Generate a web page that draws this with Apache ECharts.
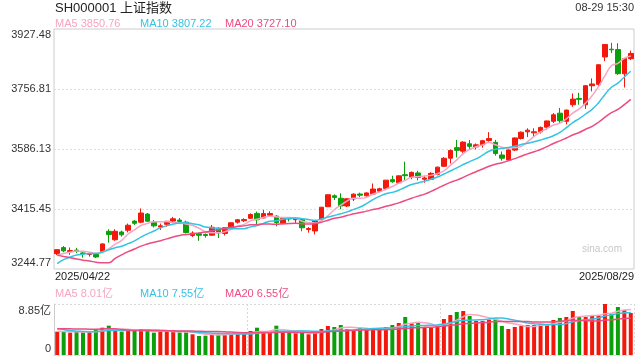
<!DOCTYPE html>
<html><head><meta charset="utf-8">
<script src="https://cdn.jsdelivr.net/npm/echarts@6/dist/echarts.min.js"></script>
<style>html,body{margin:0;padding:0;background:#fff}#c{width:640px;height:360px}</style>
</head><body><div id="c"></div><script>
const dates = ['2025-04-22','2025-04-23','2025-04-24','2025-04-25','2025-04-28','2025-04-29','2025-04-30',
'2025-05-06','2025-05-07','2025-05-08','2025-05-09','2025-05-12','2025-05-13','2025-05-14','2025-05-15','2025-05-16','2025-05-19','2025-05-20','2025-05-21','2025-05-22','2025-05-23','2025-05-26','2025-05-27','2025-05-28','2025-05-29','2025-05-30',
'2025-06-03','2025-06-04','2025-06-05','2025-06-06','2025-06-09','2025-06-10','2025-06-11','2025-06-12','2025-06-13','2025-06-16','2025-06-17','2025-06-18','2025-06-19','2025-06-20','2025-06-23','2025-06-24','2025-06-25','2025-06-26','2025-06-27','2025-06-30',
'2025-07-01','2025-07-02','2025-07-03','2025-07-04','2025-07-07','2025-07-08','2025-07-09','2025-07-10','2025-07-11','2025-07-14','2025-07-15','2025-07-16','2025-07-17','2025-07-18','2025-07-21','2025-07-22','2025-07-23','2025-07-24','2025-07-25','2025-07-28','2025-07-29','2025-07-30','2025-07-31',
'2025-08-01','2025-08-04','2025-08-05','2025-08-06','2025-08-07','2025-08-08','2025-08-11','2025-08-12','2025-08-13','2025-08-14','2025-08-15','2025-08-18','2025-08-19','2025-08-20','2025-08-21','2025-08-22','2025-08-25','2025-08-26','2025-08-27','2025-08-28','2025-08-29'];

const opens = [3288.5,3305.6,3294.5,3298.5,3290.5,3286.0,3286.0,
3295,3352,3328,3350,3355,3381,3378,3401,3378,3364,3372,3381,3384,3378,3340,3345,3343,3341,3361,
3346,3362,3378,3382,3389,3403,3390,3398,3395,3374,3388,3385,3386,3357,3353,3385,3422,3453,3446,3424,
3444,3458,3453,3458,3466,3474,3499,3490,3513,3506,3518,3500,3500,3514,3537,3560,3590,3580,3601,3592,3598,3610,3605,
3569,3555,3583,3616,3635,3632,3635,3648,3665,3688,3665,3712,3730,3712,3766,3770,3848,3870,3869,3800,3843];

const highs = [3300.5,3310,3306,3305,3293.5,3291,3288,
3318,3358,3358,3354,3374,3384,3417,3404,3384,3374,3381,3393,3390,3382,3352,3348,3346,3370,3363,
3363,3378,3387,3389,3403,3408,3413,3409,3398,3389,3391,3391,3387,3364,3384,3421,3456.5,3457,3460,3446,
3460,3462,3463,3488,3476,3498,3510,3511,3550,3522,3524,3510,3520,3536,3563,3585,3612,3608,3612,3602,3612,3634,3612,
3579,3585,3619,3636,3645,3645,3650,3667,3688,3703,3698,3744,3746,3768,3787,3826.5,3884,3888,3887,3845,3866];

const lows = [3284.5,3292.5,3285,3290,3277,3280,3276,
3292,3320,3325,3337,3349,3370,3375,3379,3363,3356,3365,3377,3373,3346,3336,3325,3334,3340,3333,
3340,3361,3374,3378,3387,3371,3389,3393,3366,3372,3380,3375,3352,3348,3343,3384,3421,3441,3415,3421,
3438,3449,3451,3455,3464,3473,3490,3488,3496,3500,3497,3490,3498,3511,3535,3545,3562,3575,3584,3585,3590,3607,3567,
3553,3553,3580,3613,3620,3623,3630,3640,3660,3658,3656,3706,3712,3700,3750,3765,3836,3859,3797,3761,3839];

const closes = [3299.76,3296.36,3297.29,3295.06,3288.41,3286.65,3279.03,
3316.11,3342.67,3352.00,3341.97,3369.24,3374.87,3403.95,3380.82,3367.46,3367.58,3380.48,3387.57,3380.19,3348.37,3346.84,3340.69,3339.93,3363.45,3347.49,
3361.98,3376.20,3384.82,3385.36,3399.77,3384.82,3402.32,3402.66,3377.00,3388.73,3387.40,3388.81,3362.11,3359.90,3381.58,3420.57,3455.97,3448.45,3424.23,3444.43,
3457.75,3454.79,3461.15,3472.32,3473.13,3497.48,3493.05,3509.68,3510.18,3519.65,3505.00,3503.78,3516.83,3534.48,3559.79,3581.86,3582.30,3605.73,3593.66,3597.94,3609.71,3615.72,3573.21,
3559.95,3583.31,3617.60,3633.99,3639.67,3635.13,3647.55,3665.92,3683.46,3666.44,3696.77,3728.03,3727.29,3766.21,3771.10,3825.76,3883.56,3868.38,3800.35,3843.60,3857.93];

// closes of the 19 sessions before the first candle (for moving averages)
const preCloses = [3369.98,3368.70,3373.75,3351.31,3335.75,3348.44,3350.13,3342.01,3096.58,3145.55,3186.81,3223.64,3238.23,3262.81,3267.66,3276.00,3280.34,3276.73,3291.43];

// volume in 亿
const volumes = [4.05,4.05,3.88,3.99,3.93,3.99,4.45,4.74,5.09,4.16,4.05,4.28,4.16,4.51,4.16,3.88,4.10,4.16,4.05,3.93,3.93,3.59,3.30,3.35,3.64,3.59,
3.76,3.76,3.70,3.76,4.16,4.74,4.05,4.05,5.09,4.05,3.99,3.76,3.99,3.59,3.82,
4.51,5.03,4.86,5.21,4.51,4.34,4.74,4.34,4.51,4.51,4.86,5.21,5.55,6.59,5.49,5.55,4.74,4.74,4.92,6.25,6.94,7.46,7.64,6.77,5.90,5.90,6.13,6.30,
5.03,4.51,4.86,5.03,5.21,5.21,5.38,5.26,6.07,6.42,6.59,7.64,6.59,6.59,6.77,6.88,8.85,7.11,8.33,7.81,7.29];
const preVolumes = [4.3,4.1,4.3,4.2,4.4,4.4,4.3,4.1,4.5,6.6,6.0,5.6,5.0,4.4,4.5,4.2,4.2,3.9,4.2];

const priceTickLabels = ['3244.77','3415.45','3586.13','3756.81','3927.48'];
const volTickLabels = ['0','8.85亿'];
const titleText = 'SH000001 上证指数';
const timeText = '08-29 15:30';
const priceLegend = ['MA5 3850.76','MA10 3807.22','MA20 3727.10'];
const volLegend = ['MA5 8.01亿','MA10 7.55亿','MA20 6.55亿'];

const UP = '#f2190c', DOWN = '#0b9f0b';
const C5 = '#f6a5c2', C10 = '#35c3e3', C20 = '#ec4c80';
const FONT = 'Arial, "Liberation Sans", "Noto Sans CJK SC", sans-serif';

function ma(pre, arr, w) {
  const all = pre.concat(arr);
  return arr.map((_, i) => {
    let s = 0;
    for (let k = 0; k < w; k++) s += all[pre.length + i - k];
    return +(s / w).toFixed(2);
  });
}
const candleData = closes.map((c, i) => [opens[i], c, lows[i], highs[i]]);
const volData = volumes.map((v, i) => ({ value: v, itemStyle: { color: closes[i] >= opens[i] ? UP : DOWN } }));
const fmtDate = d => d.replace(/-/g, '/');

function lineSeries(data, color, xi, yi) {
  return { type: 'line', data, xAxisIndex: xi, yAxisIndex: yi, showSymbol: false, smooth: true, silent: true,
    lineStyle: { color, width: 1.5 }, itemStyle: { color } };
}
function txt(x, y, text, color, size, align) {
  return { type: 'text', x, y, silent: true,
    style: { text, fill: color, font: size + 'px ' + FONT, textAlign: align || 'left', textVerticalAlign: 'middle' } };
}

const lastP = priceTickLabels.length - 1;
const chart = echarts.init(document.getElementById('c'));
chart.setOption({
  animation: false,
  backgroundColor: '#fff',
  textStyle: { fontFamily: FONT },
  grid: [
    { left: 54, right: 6, top: 29, height: 240, show: true, borderColor: '#ccc', borderWidth: 1, backgroundColor: 'transparent' },
    { left: 54, right: 6, top: 304, height: 51 }
  ],
  xAxis: [
    { type: 'category', gridIndex: 0, data: dates, boundaryGap: true, axisLine: { show: false }, axisTick: { show: false }, axisLabel: { show: false }, splitLine: { show: false } },
    { type: 'category', gridIndex: 1, data: dates, boundaryGap: true,
      axisLine: { show: true, lineStyle: { color: '#d8d8d8', type: [2, 2] } }, axisTick: { show: false }, axisLabel: { show: false },
      splitLine: { show: true, interval: 29, lineStyle: { color: '#d8d8d8', type: [2, 2] } } }
  ],
  yAxis: [
    { type: 'value', gridIndex: 0, min: 3244.77, max: 3927.48, position: 'right', show: false },
    { type: 'category', gridIndex: 0, data: priceTickLabels, boundaryGap: false, position: 'left',
      axisLine: { show: false }, axisTick: { show: false },
      axisLabel: { interval: 0, color: '#333', fontSize: 11, fontFamily: FONT, margin: 3,
        formatter: (v, i) => i === 0 ? '{b|' + v + '}' : (i === lastP ? '{t|' + v + '}' : v),
        rich: { t: { padding: [11, 0, 0, 0], fontSize: 11, color: '#333', fontFamily: FONT }, b: { padding: [0, 0, 12, 0], fontSize: 11, color: '#333', fontFamily: FONT } } },
      splitLine: { show: true, interval: (i) => i > 0 && i < lastP, lineStyle: { color: '#dedede', type: [2, 2] } } },
    { type: 'value', gridIndex: 1, min: 0, max: 8.85, interval: 8.85,
      axisLine: { show: true, lineStyle: { color: '#ccc' } }, axisTick: { show: false },
      axisLabel: { color: '#333', fontSize: 11, fontFamily: FONT, margin: 3,
        formatter: (v) => v === 0 ? '{b|' + volTickLabels[0] + '}' : '{t|' + volTickLabels[1] + '}',
        rich: { t: { padding: [13, 0, 0, 0], fontSize: 11, color: '#333', fontFamily: FONT }, b: { padding: [0, 0, 12, 0], fontSize: 11, color: '#333', fontFamily: FONT } } },
      splitLine: { show: true, lineStyle: { color: '#d8d8d8', type: [2, 2] } } }
  ],
  series: [
    { type: 'candlestick', xAxisIndex: 0, yAxisIndex: 0, data: candleData, barWidth: 5,
      itemStyle: { color: UP, color0: DOWN, borderColor: UP, borderColor0: DOWN, borderWidth: 1 } },
    lineSeries(ma(preCloses, closes, 5), C5, 0, 0),
    lineSeries(ma(preCloses, closes, 10), C10, 0, 0),
    lineSeries(ma(preCloses, closes, 20), C20, 0, 0),
    { type: 'bar', xAxisIndex: 1, yAxisIndex: 2, data: volData, barWidth: 4 },
    lineSeries(ma(preVolumes, volumes, 5), C5, 1, 2),
    lineSeries(ma(preVolumes, volumes, 10), C10, 1, 2),
    lineSeries(ma(preVolumes, volumes, 20), C20, 1, 2)
  ],
  graphic: [
    txt(55, 8, titleText, '#222', 13),
    txt(634, 8, timeText, '#333', 11, 'right'),
    txt(55, 24, priceLegend[0], C5, 11),
    txt(140, 24, priceLegend[1], C10, 11),
    txt(225, 24, priceLegend[2], C20, 11),
    txt(55, 277, fmtDate(dates[0]), '#222', 11),
    txt(634, 277, fmtDate(dates[dates.length - 1]), '#222', 11, 'right'),
    txt(55, 294, volLegend[0], C5, 11),
    txt(140, 294, volLegend[1], C10, 11),
    txt(225, 294, volLegend[2], C20, 11),
    txt(622, 249, 'sina.com', '#c8c8c8', 10, 'right')
  ]
});
</script></body></html>
